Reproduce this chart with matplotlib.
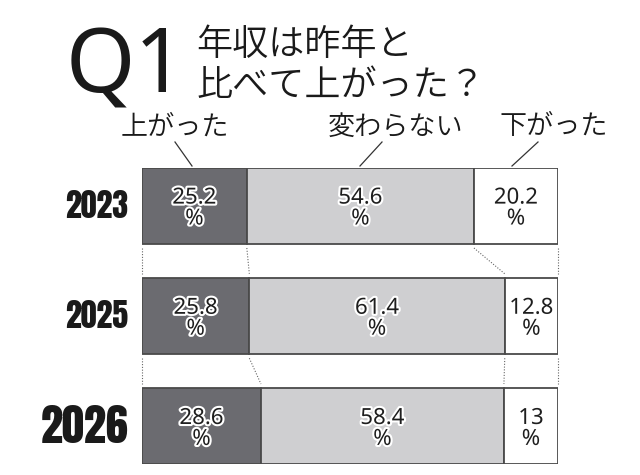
import matplotlib
matplotlib.use("Agg")
import matplotlib.pyplot as plt
import matplotlib.patheffects as pe
from matplotlib.lines import Line2D
import numpy as np

plt.rcParams['font.family'] = ['Noto Sans CJK JP', 'DejaVu Sans']

years = ["2023", "2025", "2026"]
categories = ["上がった", "変わらない", "下がった"]
up = [25.2, 25.8, 28.6]
same = [54.6, 61.4, 58.4]
down = [20.2, 12.8, 13]
value_labels = [["25.2", "54.6", "20.2"],
                ["25.8", "61.4", "12.8"],
                ["28.6", "58.4", "13"]]

colors = ["#6b6b70", "#cfcfd1", "#ffffff"]
edge = "#4a4a4a"

W, H = 640, 475
fig = plt.figure(figsize=(W / 100, H / 100), dpi=100)
fig.patch.set_facecolor("white")


def fp(x, y):
    return (x / W, 1 - y / H)


# bar axes
L, R, T, B = 142, 558, 168, 464
ax = fig.add_axes([L / W, 1 - B / H, (R - L) / W, (B - T) / H])
bh = 0.686
ax.set_xlim(0, 100)
ax.set_ylim(2 + bh / 2, -bh / 2)
ax.axis("off")

series = [up, same, down]
ypos = np.arange(len(years))
lefts = np.zeros(len(years))
cums = [np.zeros(len(years))]
for k, vals in enumerate(series):
    vals = np.array(vals, dtype=float)
    ax.barh(ypos, vals, left=lefts, height=bh, color=colors[k],
            edgecolor=edge, linewidth=1.3, zorder=2)
    for i in range(len(years)):
        cx = lefts[i] + vals[i] / 2
        for txt, dy in ((value_labels[i][k], -0.07), ("%", 0.12)):
            ax.text(cx, ypos[i] + dy, txt, ha="center", va="center",
                    fontsize=16, color="#1e1e1e", fontweight="normal",
                    family=["Noto Sans", "DejaVu Sans"],
                    zorder=4,
                    path_effects=[pe.withStroke(linewidth=3, foreground="white")])
    lefts = lefts + vals
    cums.append(lefts.copy())

# dotted connectors
for i in range(len(years) - 1):
    for c in cums:
        ax.plot([c[i], c[i + 1]], [ypos[i] + bh / 2 + 0.04, ypos[i + 1] - bh / 2 - 0.04],
                linestyle=(0, (1, 1.5)), color="#666666", linewidth=0.8,
                clip_on=False, zorder=1)

# year labels
ysizes = [23, 23, 32]
for i, y in enumerate(years):
    ax.text(-14 / (R - L), ypos[i], y, transform=ax.get_yaxis_transform(),
            ha="right", va="center", fontsize=ysizes[i],
            family=["Anton", "Roboto Condensed", "DejaVu Sans"], color="#1a1a1a")

# title
fig.text(*fp(66, 93), "Q1", fontsize=64, family=["Noto Sans", "DejaVu Sans"],
         fontweight=300, color="#1a1a1a", va="baseline", ha="left")
fig.text(*fp(196, 44), "年収は昨年と", fontsize=26, color="#1a1a1a",
         va="center", ha="left", fontweight=350)
fig.text(*fp(196, 85), "比べて上がった？", fontsize=26, color="#1a1a1a",
         va="center", ha="left", fontweight=350)

# category labels with leader lines
cat_pos = [(175, 127), (396, 127), (554, 127)]
leaders = [((175, 142), (192, 166)), ((382, 142), (360, 166)), ((538, 142), (512, 166))]
for name, (x, y), (p0, p1) in zip(categories, cat_pos, leaders):
    fig.text(*fp(x, y), name, fontsize=19.5, color="#1a1a1a",
             ha="center", va="center", fontweight=350)
    a, b = fp(*p0), fp(*p1)
    fig.add_artist(Line2D([a[0], b[0]], [a[1], b[1]], color="#333333",
                          linewidth=0.9, transform=fig.transFigure))

fig.savefig("out.png", dpi=100)
